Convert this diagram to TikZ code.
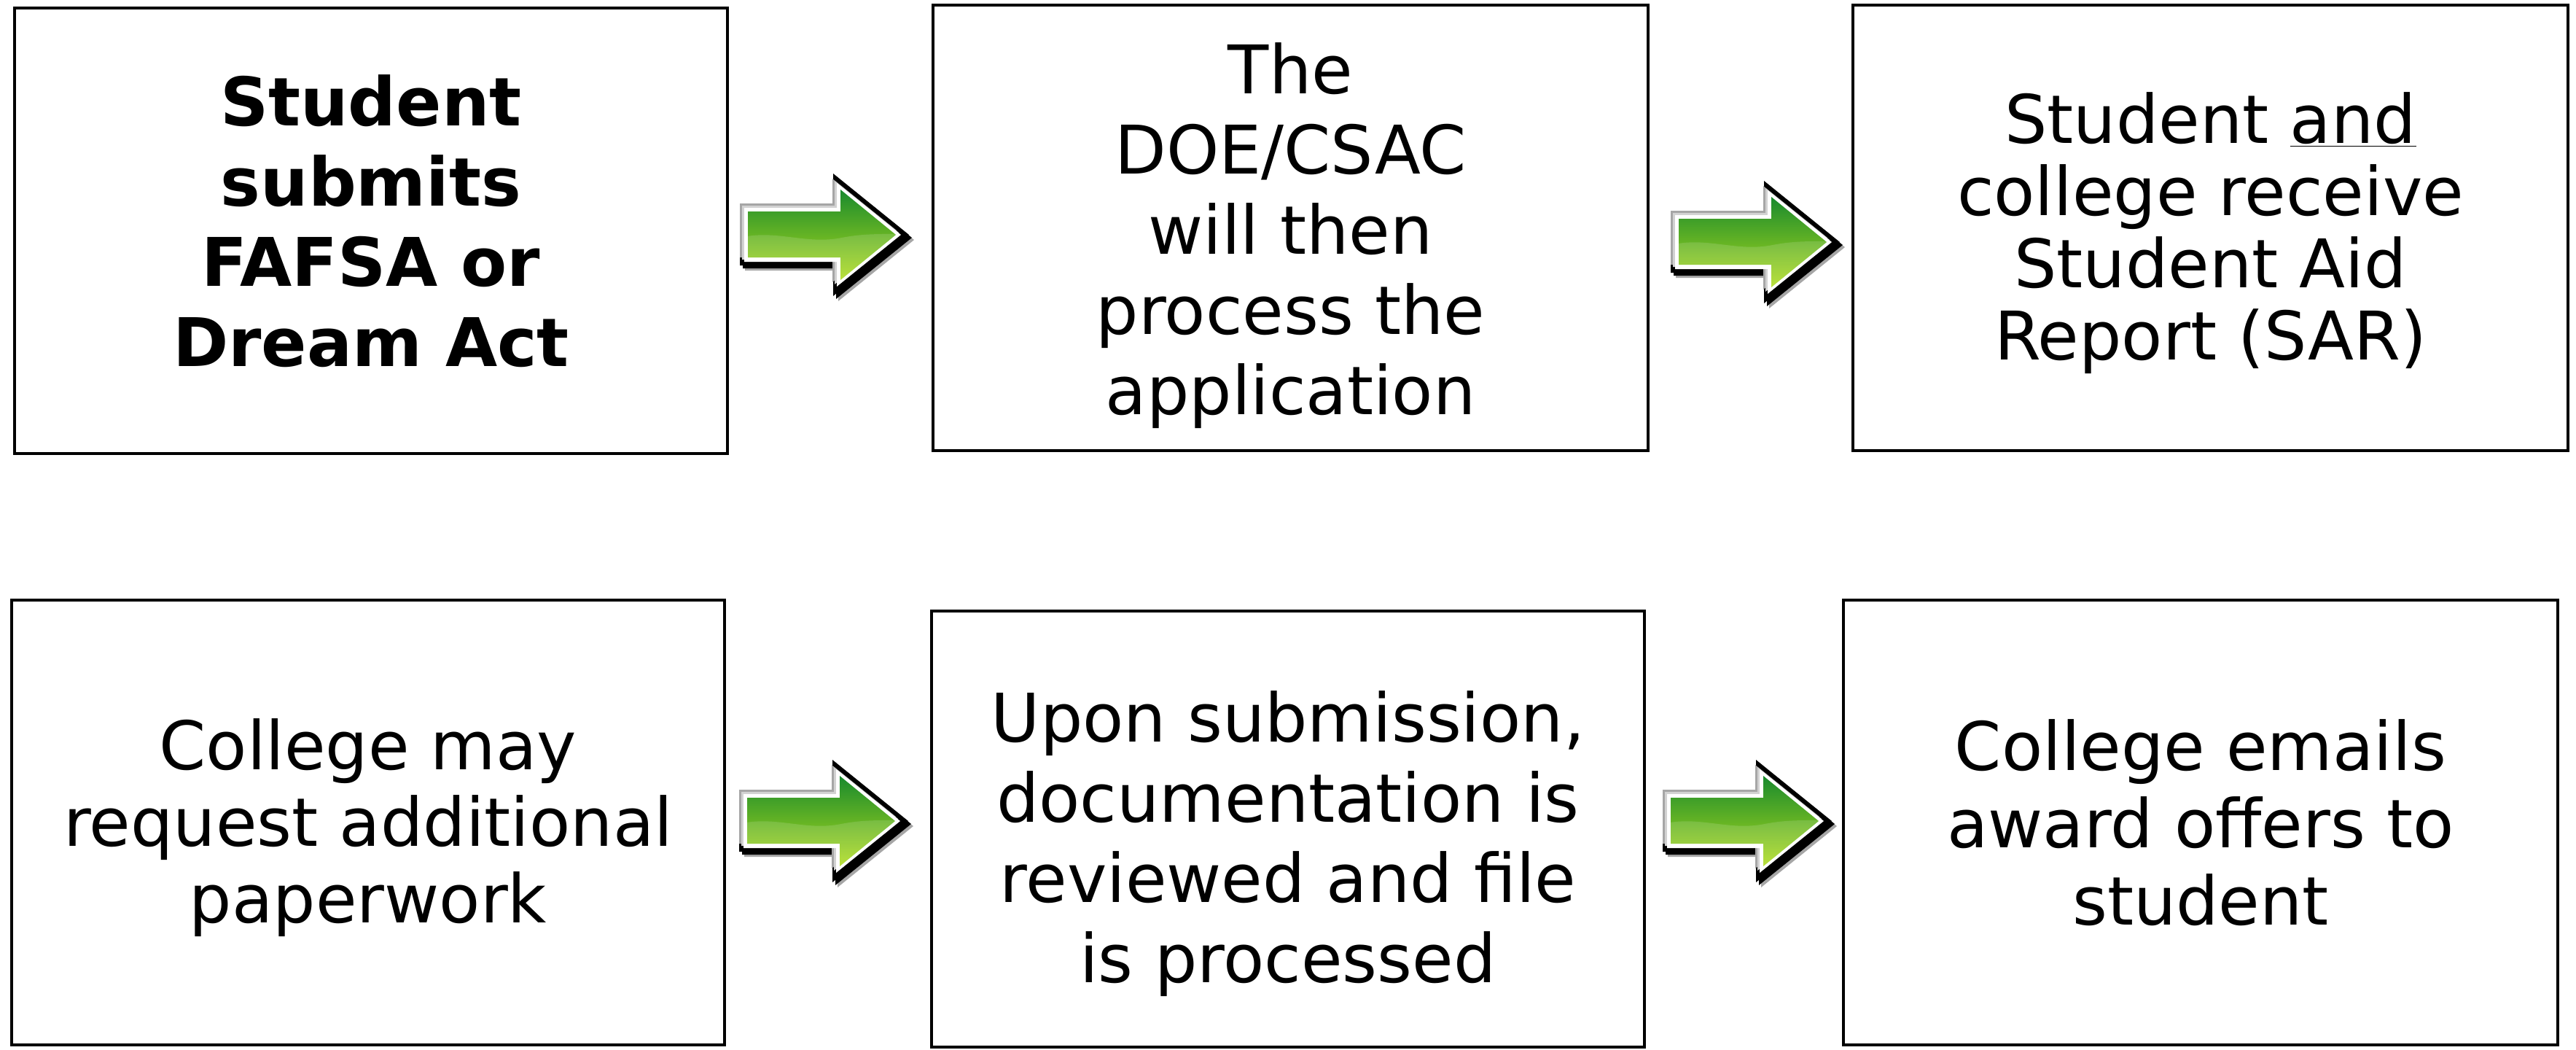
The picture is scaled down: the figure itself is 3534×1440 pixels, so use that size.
\documentclass[tikz,border=0pt]{standalone}
\usepackage{fontspec}
\setmainfont{DejaVu Sans}
\definecolor{gtop}{RGB}{25,138,45}
\definecolor{gmid}{RGB}{70,168,38}
\definecolor{gbot}{RGB}{175,220,28}
\tikzset{
  box/.style={draw=black, line width=2.4pt, fill=white, inner sep=0pt},
  txt/.style={align=center, inner sep=0pt, font=\fontsize{46}{55}\selectfont},
}
\newcommand{\arrowshape}{(0,-42) -- (128,-42) -- (128,-84) -- (232,0) -- (128,84) -- (128,42) -- (0,42) -- cycle}
\newcommand{\arrowwhite}{(6,-37) -- (133,-37) -- (133,-71) -- (221,0) -- (133,71) -- (133,37) -- (6,37) -- cycle}
\newcommand{\arrowgreen}{(11,-32) -- (138,-32) -- (138,-62) -- (214,0) -- (138,62) -- (138,31) -- (11,31) -- cycle}
\newcommand{\grarrow}[2]{%
  \begin{scope}[shift={(#1,#2)}]
    \fill[black!35, shift={(7,7)}] \arrowshape;
    \fill[black, shift={(4,4)}] \arrowshape;
    \fill[black] \arrowshape;
    \fill[gray!70, shift={(-6,-6)}] \arrowwhite;
    \fill[gray!35, shift={(-3,-3)}] \arrowwhite;
    \fill[white] \arrowwhite;
    \shade[top color=gtop, middle color=gmid, bottom color=gbot] \arrowgreen;
    \begin{scope}
      \clip \arrowgreen;
      \fill[white, opacity=0.14] (0,4) .. controls (50,-8) and (90,14) .. (140,4) .. controls (175,-3) and (200,0) .. (240,-2) -- (240,90) -- (0,90) -- cycle;
    \end{scope}
  \end{scope}}
\begin{document}
\begin{tikzpicture}[x=0.5pt, y=-0.5pt]
\useasboundingbox (0,0) rectangle (3534,1440);
\node[box, minimum width=489pt, minimum height=305.5pt] (b1) at (509,316.5) {};
\node[box, minimum width=490.5pt, minimum height=305.5pt] (b2) at (1770.5,312.5) {};
\node[box, minimum width=490.5pt, minimum height=305.5pt] (b3) at (3032.5,312.5) {};
\node[box, minimum width=489pt, minimum height=305pt] (b4) at (505,1128) {};
\node[box, minimum width=489pt, minimum height=299pt] (b5) at (1767,1137) {};
\node[box, minimum width=490pt, minimum height=305pt] (b6) at (3019,1128) {};
\node[txt, font=\fontsize{46}{55}\bfseries, yshift=6.5pt] (t1) at (b1)
  {Student\\submits\\FAFSA or\\Dream Act};
\node[txt, yshift=-5.5pt] (t2) at (b2)
  {The\\DOE/CSAC\\will then\\process the\\application};
\node[txt, font=\fontsize{46}{49.5}\selectfont, yshift=-3.5pt] (t3) at (b3)
  {Student \underline{and}\\college receive\\Student Aid\\Report (SAR)};
\node[txt, font=\fontsize{46}{52.5}\selectfont, yshift=-3.5pt] (t4) at (b4)
  {College may\\request additional\\paperwork};
\node[txt, yshift=-10pt] (t5) at (b5)
  {Upon submission,\\documentation is\\reviewed and file\\is processed};
\node[txt, font=\fontsize{46}{53}\selectfont] (t6) at (b6)
  {College emails\\award offers to\\student};
\grarrow{1015}{322}
\grarrow{2292}{332}
\grarrow{1014}{1126}
\grarrow{2281}{1126}
\end{tikzpicture}
\end{document}
